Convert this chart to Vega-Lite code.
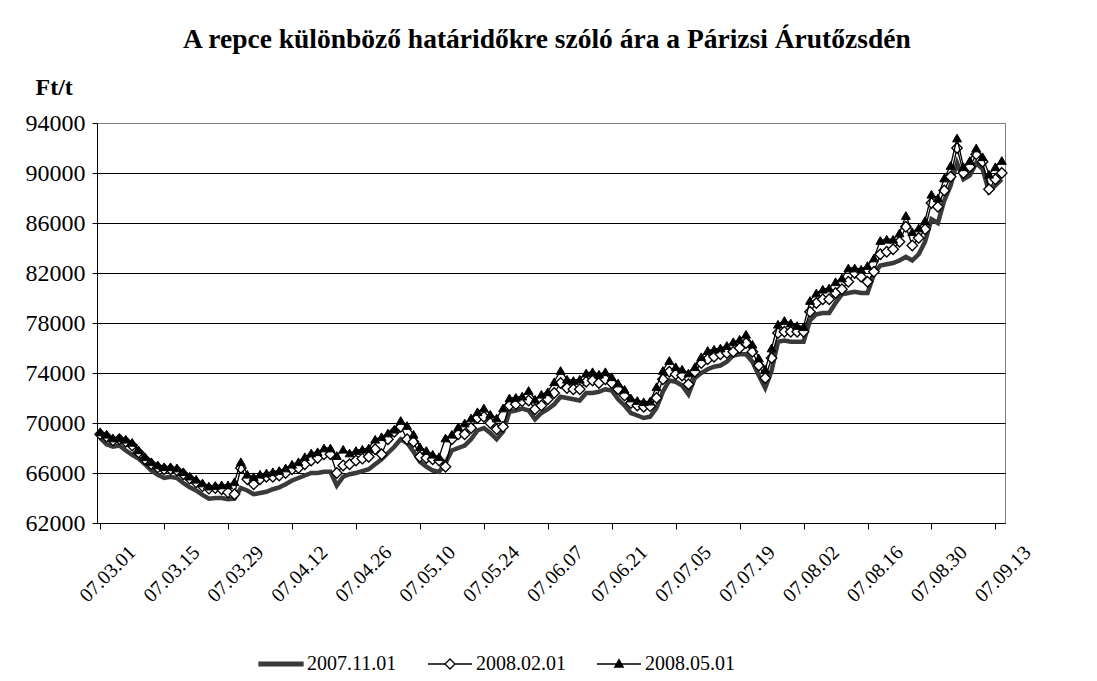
{
  "$schema": "https://vega.github.io/schema/vega-lite/v6.json",
  "autosize": {"type": "none"},
  "padding": {"left": 97, "top": 123, "right": 92, "bottom": 158},
  "width": 908,
  "height": 400,
  "background": "white",
  "title": {
    "text": "A repce különböző határidőkre szóló ára a Párizsi Árutőzsdén",
    "anchor": "start", "frame": "group", "dx": 86,
    "font": "Liberation Serif, Times New Roman, serif", "fontSize": 27.5, "fontWeight": "bold", "color": "black",
    "baseline": "alphabetic", "offset": 0
  },
  "config": {
    "view": {"stroke": "#808080", "strokeWidth": 1},
    "font": "Liberation Serif, Times New Roman, serif"
  },
  "data": {"values": [
    {"d":"07.03.01","a":68800,"b":69100,"c":69300},
    {"d":"07.03.02","a":68300,"b":68900,"c":69100},
    {"d":"07.03.05","a":68100,"b":68600,"c":68800},
    {"d":"07.03.06","a":68200,"b":68700,"c":68800},
    {"d":"07.03.07","a":67800,"b":68500,"c":68700},
    {"d":"07.03.08","a":67450,"b":68200,"c":68450},
    {"d":"07.03.09","a":67150,"b":67650,"c":67850},
    {"d":"07.03.12","a":66700,"b":67100,"c":67300},
    {"d":"07.03.13","a":66200,"b":66700,"c":66900},
    {"d":"07.03.14","a":65850,"b":66450,"c":66650},
    {"d":"07.03.15","a":65600,"b":66300,"c":66500},
    {"d":"07.03.16","a":65700,"b":66300,"c":66500},
    {"d":"07.03.19","a":65600,"b":66200,"c":66400},
    {"d":"07.03.20","a":65200,"b":65900,"c":66100},
    {"d":"07.03.21","a":64850,"b":65550,"c":65750},
    {"d":"07.03.22","a":64600,"b":65250,"c":65500},
    {"d":"07.03.23","a":64250,"b":64950,"c":65200},
    {"d":"07.03.26","a":63950,"b":64750,"c":64950},
    {"d":"07.03.27","a":64000,"b":64800,"c":65000},
    {"d":"07.03.28","a":64000,"b":64700,"c":65050},
    {"d":"07.03.29","a":63900,"b":64450,"c":65050},
    {"d":"07.03.30","a":63950,"b":64300,"c":65300},
    {"d":"07.04.02","a":64800,"b":66400,"c":66900},
    {"d":"07.04.03","a":64600,"b":65500,"c":65900},
    {"d":"07.04.04","a":64300,"b":65100,"c":65700},
    {"d":"07.04.05","a":64400,"b":65500,"c":65900},
    {"d":"07.04.06","a":64500,"b":65700,"c":66000},
    {"d":"07.04.09","a":64700,"b":65700,"c":66100},
    {"d":"07.04.10","a":64850,"b":65800,"c":66200},
    {"d":"07.04.11","a":65100,"b":66000,"c":66400},
    {"d":"07.04.12","a":65400,"b":66300,"c":66700},
    {"d":"07.04.13","a":65600,"b":66400,"c":66900},
    {"d":"07.04.16","a":65800,"b":66700,"c":67300},
    {"d":"07.04.17","a":66000,"b":67000,"c":67600},
    {"d":"07.04.18","a":66000,"b":67200,"c":67700},
    {"d":"07.04.19","a":66100,"b":67500,"c":68000},
    {"d":"07.04.20","a":66100,"b":67500,"c":68000},
    {"d":"07.04.23","a":65000,"b":66000,"c":67400},
    {"d":"07.04.24","a":65700,"b":66600,"c":67900},
    {"d":"07.04.25","a":65900,"b":66700,"c":67600},
    {"d":"07.04.26","a":66000,"b":67000,"c":67800},
    {"d":"07.04.27","a":66150,"b":67150,"c":67900},
    {"d":"07.04.30","a":66300,"b":67300,"c":68000},
    {"d":"07.05.01","a":66700,"b":67900,"c":68700},
    {"d":"07.05.02","a":67100,"b":67500,"c":68900},
    {"d":"07.05.03","a":67600,"b":68700,"c":69200},
    {"d":"07.05.04","a":68100,"b":69300,"c":69500},
    {"d":"07.05.07","a":68700,"b":69700,"c":70200},
    {"d":"07.05.08","a":68400,"b":68700,"c":69800},
    {"d":"07.05.09","a":67700,"b":68500,"c":69100},
    {"d":"07.05.10","a":66900,"b":67300,"c":68100},
    {"d":"07.05.11","a":66500,"b":67200,"c":67800},
    {"d":"07.05.14","a":66200,"b":67100,"c":67500},
    {"d":"07.05.15","a":66100,"b":67000,"c":67300},
    {"d":"07.05.16","a":66800,"b":66500,"c":68800},
    {"d":"07.05.17","a":67800,"b":68700,"c":69100},
    {"d":"07.05.18","a":68000,"b":69100,"c":69700},
    {"d":"07.05.21","a":68200,"b":69100,"c":70000},
    {"d":"07.05.22","a":68700,"b":69600,"c":70400},
    {"d":"07.05.23","a":69400,"b":70400,"c":70900},
    {"d":"07.05.24","a":69600,"b":70500,"c":71200},
    {"d":"07.05.25","a":69200,"b":70000,"c":70700},
    {"d":"07.05.28","a":68700,"b":69500,"c":70400},
    {"d":"07.05.29","a":69300,"b":69700,"c":71200},
    {"d":"07.05.30","a":70900,"b":71400,"c":72000},
    {"d":"07.05.31","a":71000,"b":71500,"c":72050},
    {"d":"07.06.01","a":71150,"b":71750,"c":72150},
    {"d":"07.06.04","a":71000,"b":71800,"c":72600},
    {"d":"07.06.05","a":70300,"b":71100,"c":71900},
    {"d":"07.06.06","a":70800,"b":71400,"c":72300},
    {"d":"07.06.07","a":71100,"b":71900,"c":72500},
    {"d":"07.06.08","a":71500,"b":72400,"c":73300},
    {"d":"07.06.11","a":72100,"b":73200,"c":74200},
    {"d":"07.06.12","a":72000,"b":72800,"c":73500},
    {"d":"07.06.13","a":71900,"b":72700,"c":73400},
    {"d":"07.06.14","a":71800,"b":72700,"c":73500},
    {"d":"07.06.15","a":72400,"b":73300,"c":74000},
    {"d":"07.06.18","a":72400,"b":73400,"c":74100},
    {"d":"07.06.19","a":72500,"b":73200,"c":73900},
    {"d":"07.06.20","a":72700,"b":73500,"c":74100},
    {"d":"07.06.21","a":72600,"b":73200,"c":73700},
    {"d":"07.06.22","a":71900,"b":72700,"c":73200},
    {"d":"07.06.25","a":71400,"b":72200,"c":72700},
    {"d":"07.06.26","a":70800,"b":71600,"c":72000},
    {"d":"07.06.27","a":70600,"b":71400,"c":71800},
    {"d":"07.06.28","a":70400,"b":71300,"c":71700},
    {"d":"07.06.29","a":70500,"b":71350,"c":71750},
    {"d":"07.07.02","a":71200,"b":72000,"c":72900},
    {"d":"07.07.03","a":72500,"b":73500,"c":74200},
    {"d":"07.07.04","a":73400,"b":74100,"c":75000},
    {"d":"07.07.05","a":73300,"b":73900,"c":74500},
    {"d":"07.07.06","a":73000,"b":73800,"c":74300},
    {"d":"07.07.09","a":72300,"b":73100,"c":74000},
    {"d":"07.07.10","a":73600,"b":74100,"c":74500},
    {"d":"07.07.11","a":74000,"b":74800,"c":75300},
    {"d":"07.07.12","a":74300,"b":75100,"c":75800},
    {"d":"07.07.13","a":74500,"b":75300,"c":75900},
    {"d":"07.07.16","a":74600,"b":75500,"c":76000},
    {"d":"07.07.17","a":74900,"b":75600,"c":76200},
    {"d":"07.07.18","a":75400,"b":75700,"c":76500},
    {"d":"07.07.19","a":75500,"b":76000,"c":76700},
    {"d":"07.07.20","a":75500,"b":76400,"c":77100},
    {"d":"07.07.23","a":74900,"b":75700,"c":76300},
    {"d":"07.07.24","a":73800,"b":74600,"c":75200},
    {"d":"07.07.25","a":72800,"b":73600,"c":74300},
    {"d":"07.07.26","a":74200,"b":75200,"c":76000},
    {"d":"07.07.27","a":76500,"b":77200,"c":77900},
    {"d":"07.07.30","a":76600,"b":77300,"c":78200},
    {"d":"07.07.31","a":76500,"b":77300,"c":78000},
    {"d":"07.08.01","a":76500,"b":77300,"c":77800},
    {"d":"07.08.02","a":76500,"b":77300,"c":77700},
    {"d":"07.08.03","a":78200,"b":78900,"c":79800},
    {"d":"07.08.06","a":78700,"b":79600,"c":80400},
    {"d":"07.08.07","a":78800,"b":79900,"c":80700},
    {"d":"07.08.08","a":78800,"b":79900,"c":80800},
    {"d":"07.08.09","a":79600,"b":80400,"c":81300},
    {"d":"07.08.10","a":80300,"b":80700,"c":81600},
    {"d":"07.08.13","a":80400,"b":81300,"c":82400},
    {"d":"07.08.14","a":80500,"b":82000,"c":82400},
    {"d":"07.08.15","a":80400,"b":81700,"c":82300},
    {"d":"07.08.16","a":80400,"b":81300,"c":82600},
    {"d":"07.08.17","a":81900,"b":82100,"c":83200},
    {"d":"07.08.20","a":82600,"b":83500,"c":84600},
    {"d":"07.08.21","a":82700,"b":83700,"c":84700},
    {"d":"07.08.22","a":82800,"b":83900,"c":84700},
    {"d":"07.08.23","a":83000,"b":84500,"c":85200},
    {"d":"07.08.24","a":83300,"b":85700,"c":86600},
    {"d":"07.08.27","a":83000,"b":84200,"c":85300},
    {"d":"07.08.28","a":83500,"b":84800,"c":85600},
    {"d":"07.08.29","a":84500,"b":85500,"c":86200},
    {"d":"07.08.30","a":86300,"b":87600,"c":88300},
    {"d":"07.08.31","a":86000,"b":87300,"c":88000},
    {"d":"07.09.03","a":87800,"b":88600,"c":89600},
    {"d":"07.09.04","a":89000,"b":89700,"c":90600},
    {"d":"07.09.05","a":90800,"b":92000,"c":92800},
    {"d":"07.09.06","a":89500,"b":90000,"c":90500},
    {"d":"07.09.07","a":89800,"b":90500,"c":91000},
    {"d":"07.09.10","a":90800,"b":91500,"c":92000},
    {"d":"07.09.11","a":90300,"b":90900,"c":91300},
    {"d":"07.09.12","a":88500,"b":88700,"c":89900},
    {"d":"07.09.13","a":89000,"b":89500,"c":90500},
    {"d":"07.09.14","a":89500,"b":90000,"c":91000}
  ]},
  "transform": [{"fold": ["a", "b", "c"], "as": ["series", "value"]}],
  "encoding": {
    "x": {
      "field": "d", "type": "ordinal", "sort": null,
      "scale": {"type": "point", "padding": 0.5},
      "axis": {
        "values": ["07.03.01","07.03.15","07.03.29","07.04.12","07.04.26","07.05.10","07.05.24","07.06.07","07.06.21","07.07.05","07.07.19","07.08.02","07.08.16","07.08.30","07.09.13"],
        "title": null, "grid": false,
        "labelAngle": -45, "labelAlign": "right", "labelBaseline": "middle",
        "labelFont": "Liberation Serif, Times New Roman, serif", "labelFontSize": 20, "labelColor": "black",
        "labelPadding": 20, "labelOffset": 32,
        "tickSize": 6, "tickColor": "black", "domainColor": "black", "domainWidth": 1
      }
    },
    "y": {
      "field": "value", "type": "quantitative",
      "scale": {"domain": [62000, 94000], "nice": false, "zero": false},
      "axis": {
        "values": [62000, 66000, 70000, 74000, 78000, 82000, 86000, 90000, 94000],
        "format": "d", "grid": true,
        "gridColor": {"condition": {"test": "datum.value === 94000", "value": "#808080"}, "value": "black"},
        "gridWidth": 1,
        "labelFont": "Liberation Serif, Times New Roman, serif", "labelFontSize": 24, "labelColor": "black",
        "labelPadding": 7, "tickSize": 5, "tickColor": "black", "domainColor": "black",
        "title": "Ft/t", "titleAngle": 0, "titleX": -62, "titleY": -29,
        "titleAlign": "left", "titleBaseline": "alphabetic",
        "titleFont": "Liberation Serif, Times New Roman, serif", "titleFontSize": 24, "titleFontWeight": "bold", "titleColor": "black"
      }
    }
  },
  "layer": [
    {
      "transform": [{"filter": "datum.series === 'a'"}],
      "mark": {"type": "line", "color": "#3a3a3a", "strokeWidth": 4.5}
    },
    {
      "transform": [{"filter": "datum.series === 'b'"}],
      "mark": {"type": "line", "color": "black", "strokeWidth": 1.3}
    },
    {
      "transform": [{"filter": "datum.series === 'b'"}],
      "mark": {"type": "point", "shape": "diamond", "filled": true, "fill": "white", "stroke": "black", "strokeWidth": 1.3, "size": 110, "opacity": 1}
    },
    {
      "transform": [{"filter": "datum.series === 'c'"}],
      "mark": {"type": "line", "color": "black", "strokeWidth": 1.3}
    },
    {
      "transform": [{"filter": "datum.series === 'c'"}],
      "mark": {"type": "point", "shape": "triangle-up", "filled": true, "fill": "black", "stroke": "black", "strokeWidth": 1, "size": 80, "opacity": 1}
    },
    {
      "transform": [{"filter": "datum.series === 'none'"}],
      "mark": {"type": "point", "filled": true, "opacity": 1},
      "encoding": {
        "shape": {
          "field": "series", "type": "nominal",
          "scale": {"domain": ["a", "b", "c"], "range": ["M-1,-0.08H1V0.08H-1Z", "M-1,0H-0.23M0.23,0H1M0,-0.23L0.23,0L0,0.23L-0.23,0Z", "M-1,0H1M0,-0.2L0.19,0.14L-0.19,0.14Z"]},
          "legend": {
            "orient": "none", "legendX": 161, "legendY": 518, "direction": "horizontal",
            "title": null, "symbolSize": 1936, "symbolStrokeWidth": 1.3, "symbolOpacity": 1,
            "labelFont": "Liberation Serif, Times New Roman, serif", "labelFontSize": 20, "labelColor": "black",
            "labelOffset": 3, "columnPadding": 28,
            "labelExpr": "datum.label === 'a' ? '2007.11.01' : datum.label === 'b' ? '2008.02.01' : '2008.05.01'"
          }
        },
        "fill": {
          "field": "series", "type": "nominal",
          "scale": {"domain": ["a", "b", "c"], "range": ["#3a3a3a", "#ffffff", "#000000"]},
          "legend": {
            "orient": "none", "legendX": 161, "legendY": 518, "direction": "horizontal",
            "title": null, "symbolSize": 1936, "symbolStrokeWidth": 1.3, "symbolOpacity": 1,
            "labelFont": "Liberation Serif, Times New Roman, serif", "labelFontSize": 20, "labelColor": "black",
            "labelOffset": 3, "columnPadding": 28,
            "labelExpr": "datum.label === 'a' ? '2007.11.01' : datum.label === 'b' ? '2008.02.01' : '2008.05.01'"
          }
        },
        "stroke": {
          "field": "series", "type": "nominal",
          "scale": {"domain": ["a", "b", "c"], "range": ["#3a3a3a", "#000000", "#000000"]},
          "legend": {
            "orient": "none", "legendX": 161, "legendY": 518, "direction": "horizontal",
            "title": null, "symbolSize": 1936, "symbolStrokeWidth": 1.3, "symbolOpacity": 1,
            "labelFont": "Liberation Serif, Times New Roman, serif", "labelFontSize": 20, "labelColor": "black",
            "labelOffset": 3, "columnPadding": 28,
            "labelExpr": "datum.label === 'a' ? '2007.11.01' : datum.label === 'b' ? '2008.02.01' : '2008.05.01'"
          }
        }
      }
    }
  ]
}
